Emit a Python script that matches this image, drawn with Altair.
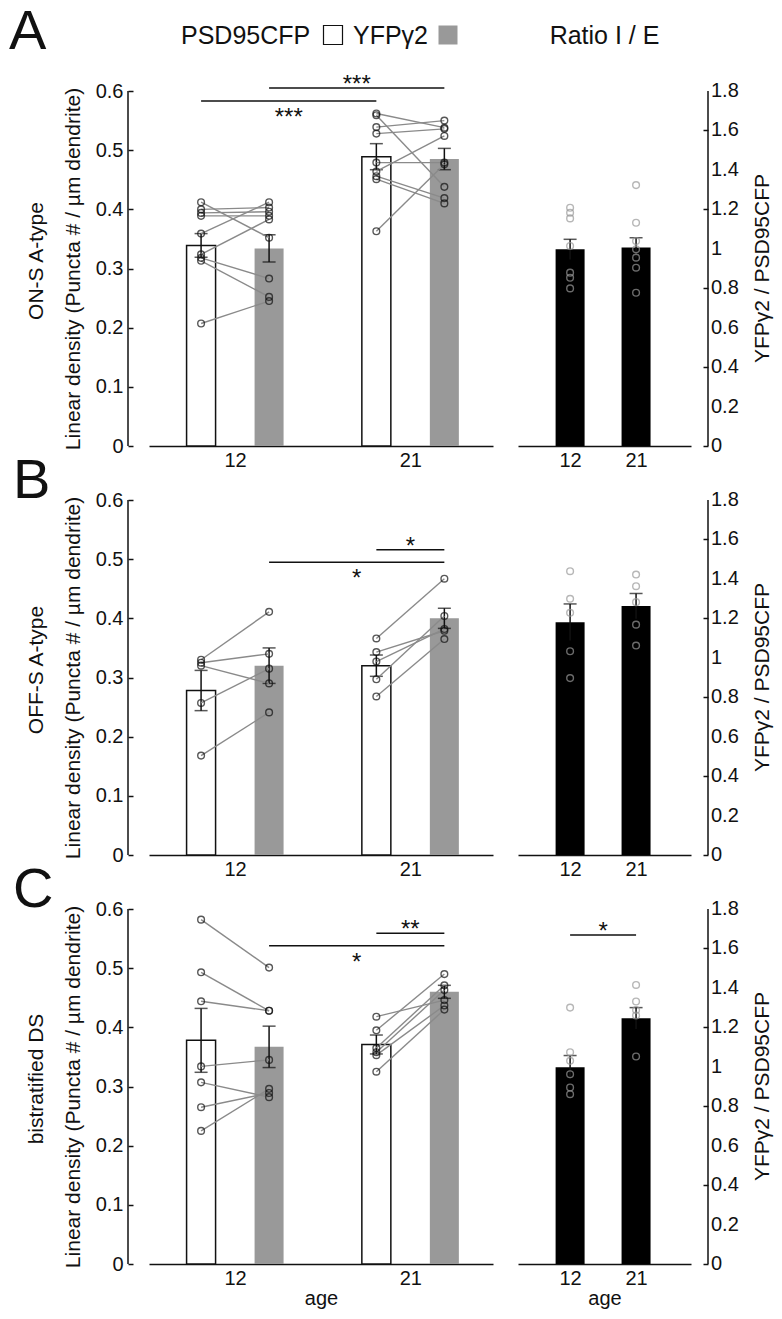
import altair as alt
import pandas as pd

FONT = "Liberation Sans"
AGES = ["12", "21"]
SERIES = ["PSD95CFP", "YFPγ2"]
PANEL_LETTERS = ["A", "B", "C"]
CELL_TYPES = ["ON-S A-type", "OFF-S A-type", "bistratified DS"]
LEFT_TITLE = "Linear density (Puncta # / µm dendrite)"
RIGHT_TITLE = "YFPγ2 / PSD95CFP"
RATIO_HEADER = "Ratio I / E"
X_TITLE = "age"
LEFT_TICKS = [0, 0.1, 0.2, 0.3, 0.4, 0.5, 0.6]
RIGHT_TICKS = [0, 0.2, 0.4, 0.6, 0.8, 1, 1.2, 1.4, 1.6, 1.8]
RIGHT_TICK_LABELS = ["0", "0.2", "0.4", "0.6", "0.8", "1", "1.2", "1.4", "1.6", "1.8"]

# ---------------- A : ON-S A-type ----------------
A_psd_12 = [0.412, 0.400, 0.394, 0.389, 0.359, 0.324, 0.318, 0.313, 0.207]
A_yfp_12 = [0.352, 0.403, 0.396, 0.389, 0.412, 0.383, 0.283, 0.252, 0.245]
A_psd_21 = [0.562, 0.559, 0.539, 0.528, 0.479, 0.464, 0.456, 0.451, 0.363]
A_yfp_21 = [0.538, 0.438, 0.550, 0.536, 0.479, 0.524, 0.419, 0.410, 0.476]
A_mean_psd = [0.339, 0.489]
A_sem_psd = [0.020, 0.022]
A_mean_yfp = [0.334, 0.485]
A_sem_yfp = [0.023, 0.018]
A_ratio_12 = [1.208, 1.183, 1.154, 1.014, 0.879, 0.853, 0.799]
A_ratio_21 = [1.323, 1.132, 1.039, 0.997, 0.955, 0.904, 0.777]
A_ratio_mean = [0.997, 1.006]
A_ratio_sem = [0.051, 0.050]
A_sig = [("12", "YFPγ2", "21", "YFPγ2", 0.605, "***", "above"),
         ("12", "PSD95CFP", "21", "PSD95CFP", 0.583, "***", "below")]
A_ratio_sig = []

# ---------------- B : OFF-S A-type ----------------
B_psd_12 = [0.330, 0.325, 0.320, 0.257, 0.168]
B_yfp_12 = [0.411, 0.340, 0.290, 0.315, 0.241]
B_psd_21 = [0.366, 0.343, 0.327, 0.297, 0.268]
B_yfp_21 = [0.467, 0.379, 0.382, 0.404, 0.365]
B_mean_psd = [0.278, 0.320]
B_sem_psd = [0.034, 0.018]
B_mean_yfp = [0.320, 0.400]
B_sem_yfp = [0.030, 0.017]
B_ratio_12 = [1.439, 1.299, 1.228, 1.033, 0.897]
B_ratio_21 = [1.422, 1.363, 1.282, 1.168, 1.062]
B_ratio_mean = [1.180, 1.262]
B_ratio_sem = [0.093, 0.064]
B_sig = [("21", "PSD95CFP", "21", "YFPγ2", 0.516, "*", "above"),
         ("12", "YFPγ2", "21", "YFPγ2", 0.495, "*", "below")]
B_ratio_sig = []

# ---------------- C : bistratified DS ----------------
C_psd_12 = [0.582, 0.493, 0.444, 0.334, 0.307, 0.265, 0.225]
C_yfp_12 = [0.501, 0.428, 0.428, 0.345, 0.282, 0.289, 0.296]
C_psd_21 = [0.418, 0.395, 0.365, 0.358, 0.353, 0.325]
C_yfp_21 = [0.446, 0.490, 0.471, 0.463, 0.437, 0.430]
C_mean_psd = [0.378, 0.371]
C_sem_psd = [0.054, 0.016]
C_mean_yfp = [0.367, 0.460]
C_sem_yfp = [0.035, 0.011]
C_ratio_12 = [1.300, 1.074, 1.030, 0.962, 0.895, 0.861]
C_ratio_21 = [1.415, 1.331, 1.288, 1.260, 1.052]
C_ratio_mean = [0.998, 1.246]
C_ratio_sem = [0.059, 0.054]
C_sig = [("21", "PSD95CFP", "21", "YFPγ2", 0.559, "**", "above"),
         ("12", "YFPγ2", "21", "YFPγ2", 0.538, "*", "below")]
C_ratio_sig = [("12", "21", 1.668, "*", "above")]

# ---------------- layout / style constants ----------------
W_L, W_R, H = 344, 173, 355
X_DOM_L = [-0.4626, 1.443]
X_DOM_R = [-0.714, 1.757]
OFF = 0.194
BAR_W = 29
GREY = "#999999"
LINE_GREY = "#8a8a8a"
INK = "#111111"
LABEL_EXPR = "['12','21'][datum.value]"
TICK_FONT = 20
TITLE_FONT = 21

one = pd.DataFrame({"k": [0]})


def xpos(age, series=None):
    g = AGES.index(age)
    if series is None:
        return float(g)
    return g + (-OFF if series == SERIES[0] else OFF)


def text_at(text, x, y, size, align="left", baseline="alphabetic", angle=0):
    return alt.Chart(one).mark_text(
        text=text, fontSize=size, align=align, baseline=baseline, angle=angle,
        color=INK, font=FONT
    ).encode(x=alt.value(x), y=alt.value(y))


def make_x_axis(show_title):
    return alt.Axis(values=[0, 1], labelExpr=LABEL_EXPR, ticks=False, tickSize=0,
                    grid=False, domain=True, domainColor=INK, domainWidth=1.5,
                    labelFontSize=TICK_FONT, labelPadding=4, labelColor=INK,
                    labelOverlap=False,
                    title=X_TITLE if show_title else "", titleFontSize=TICK_FONT,
                    titlePadding=0, titleFontWeight="normal", titleColor=INK)


def sig_layers(sigs, XE, YE, ratio=False):
    rows = []
    for s in sigs:
        if ratio:
            a1, a2, y, lab, place = s
            x1, x2 = xpos(a1), xpos(a2)
        else:
            a1, s1, a2, s2, y, lab, place = s
            x1, x2 = xpos(a1, s1), xpos(a2, s2)
        rows.append({"x1": x1, "x2": x2, "xm": (x1 + x2) / 2, "y": y,
                     "label": lab, "place": place})
    df = pd.DataFrame(rows, columns=["x1", "x2", "xm", "y", "label", "place"])
    layers = [
        alt.Chart(df).mark_rule(color=INK, strokeWidth=1.5).encode(
            x=XE("x1"), x2="x2:Q", y=YE("y")),
    ]
    for place, dy in (("above", 4), ("below", 24)):
        sub = df[df["place"] == place]
        layers.append(
            alt.Chart(sub).mark_text(fontSize=24, dy=dy, align="center",
                                     baseline="alphabetic", color=INK, font=FONT).encode(
                x=XE("xm"), y=YE("y"), text="label:N"))
    return layers


def left_panel(r, psd, yfp, mean_psd, sem_psd, mean_yfp, sem_yfp, sigs, last):
    xs = alt.Scale(domain=X_DOM_L, nice=False, zero=False)
    ys = alt.Scale(domain=[0, 0.6], nice=False, zero=True)
    x_axis = make_x_axis(last)
    y_axis = alt.Axis(values=LEFT_TICKS, format=".1~f", domain=False, ticks=True,
                      tickSize=5, tickWidth=1.5, tickColor=INK, offset=16,
                      labelPadding=5, labelFontSize=TICK_FONT, labelColor=INK,
                      labelOverlap=False, grid=False,
                      title=LEFT_TITLE, titleFontSize=TITLE_FONT, titleFontWeight="normal",
                      titleColor=INK, titlePadding=12)

    def XE(f):
        return alt.X(f"{f}:Q", scale=xs, axis=x_axis)

    def YE(f):
        return alt.Y(f"{f}:Q", scale=ys, axis=y_axis)

    bar_rows = []
    for s, means, sems in ((SERIES[0], mean_psd, sem_psd), (SERIES[1], mean_yfp, sem_yfp)):
        for i, a in enumerate(AGES):
            bar_rows.append({"series": s, "x": xpos(a, s), "mean": means[i],
                             "lo": means[i] - sems[i], "hi": means[i] + sems[i]})
    bars = pd.DataFrame(bar_rows)
    pt_rows = []
    for a in AGES:
        for i, (p, q) in enumerate(zip(psd[a], yfp[a])):
            pt_rows.append({"pair": f"{a}-{i}", "x": xpos(a, SERIES[0]), "v": p})
            pt_rows.append({"pair": f"{a}-{i}", "x": xpos(a, SERIES[1]), "v": q})
    pts = pd.DataFrame(pt_rows)

    bar_psd = alt.Chart(bars[bars["series"] == SERIES[0]]).mark_bar(
        size=BAR_W, fill="white", stroke=INK, strokeWidth=1.5).encode(
        x=XE("x"), y=YE("mean"))
    bar_yfp = alt.Chart(bars[bars["series"] == SERIES[1]]).mark_bar(
        size=BAR_W, color=GREY).encode(x=XE("x"), y=YE("mean"))
    err = alt.Chart(bars).mark_rule(color=INK, strokeWidth=1.5).encode(
        x=XE("x"), y=YE("lo"), y2="hi:Q")
    cap_lo = alt.Chart(bars).mark_tick(orient="horizontal", size=13, thickness=1.5,
                                       color=INK).encode(x=XE("x"), y=YE("lo"))
    cap_hi = alt.Chart(bars).mark_tick(orient="horizontal", size=13, thickness=1.5,
                                       color=INK).encode(x=XE("x"), y=YE("hi"))
    lines = alt.Chart(pts).mark_line(color=LINE_GREY, strokeWidth=1.4).encode(
        x=XE("x"), y=YE("v"), detail="pair:N")
    points = alt.Chart(pts).mark_point(shape="circle", filled=False, color=INK,
                                       size=45, strokeWidth=1.4).encode(
        x=XE("x"), y=YE("v"))
    axis_line = alt.Chart(one).mark_rule(color=INK, strokeWidth=1.5).encode(
        x=alt.value(-21), y=alt.datum(0.0), y2=alt.datum(0.6))

    layers = [bar_psd, bar_yfp, err, cap_lo, cap_hi, lines, points, axis_line]
    layers += sig_layers(sigs, XE, YE)
    letter_x = -140 if r == 0 else -136
    letter_y = -42 if r == 0 else -2
    layers.append(text_at(PANEL_LETTERS[r], letter_x, letter_y, 56))
    layers.append(text_at(CELL_TYPES[r], -112, 170, 21, align="center",
                          baseline="middle", angle=270))
    if r == 0:
        layers.append(text_at(SERIES[0], 32, -47, 25))
        layers.append(alt.Chart(one).mark_square(size=361, fill="white", stroke=INK,
                                                 strokeWidth=1.2, opacity=1).encode(
            x=alt.value(184), y=alt.value(-56)))
        layers.append(text_at(SERIES[1], 204, -47, 25))
        layers.append(alt.Chart(one).mark_square(size=361, fill=GREY, strokeWidth=0,
                                                 opacity=1).encode(
            x=alt.value(299), y=alt.value(-56)))
    return alt.layer(*layers).properties(width=W_L, height=H)


def ratio_panel(r, r12, r21, means, sems, sigs, last):
    xs = alt.Scale(domain=X_DOM_R, nice=False, zero=False)
    ys = alt.Scale(domain=[0, 1.8], nice=False, zero=True)
    x_axis = make_x_axis(last)
    y_axis = alt.Axis(orient="right", values=RIGHT_TICKS, domain=False, labels=False,
                      ticks=True, tickSize=5, tickWidth=1.5, tickColor=INK, offset=12,
                      grid=False, title="")

    def XE(f):
        return alt.X(f"{f}:Q", scale=xs, axis=x_axis)

    def YE(f):
        return alt.Y(f"{f}:Q", scale=ys, axis=y_axis)

    bars = pd.DataFrame({"x": [xpos(a) for a in AGES], "mean": means,
                         "lo": [m - e for m, e in zip(means, sems)],
                         "hi": [m + e for m, e in zip(means, sems)]})
    pt_rows = []
    for a, vals in zip(AGES, (r12, r21)):
        for v in vals:
            pt_rows.append({"x": xpos(a), "v": v})
    pts = pd.DataFrame(pt_rows)
    tick_df = pd.DataFrame({"v": RIGHT_TICKS, "label": RIGHT_TICK_LABELS})

    bar = alt.Chart(bars).mark_bar(size=BAR_W, color="black").encode(
        x=XE("x"), y=YE("mean"))
    err = alt.Chart(bars).mark_rule(color=INK, strokeWidth=1.5).encode(
        x=XE("x"), y=YE("lo"), y2="hi:Q")
    cap_hi = alt.Chart(bars).mark_tick(orient="horizontal", size=13, thickness=1.5,
                                       color=INK).encode(x=XE("x"), y=YE("hi"))
    points = alt.Chart(pts).mark_point(shape="circle", filled=False, color=GREY,
                                       size=45, strokeWidth=1.4).encode(
        x=XE("x"), y=YE("v"))
    axis_line = alt.Chart(one).mark_rule(color=INK, strokeWidth=1.5).encode(
        x=alt.value(W_R + 17), y=alt.datum(0.0), y2=alt.datum(1.8))
    tick_labels = alt.Chart(tick_df).mark_text(
        fontSize=TICK_FONT, align="left", baseline="middle", color=INK, font=FONT
    ).encode(x=alt.value(W_R + 20), y=YE("v"), text="label:N")
    layers = [bar, err, cap_hi, points, axis_line, tick_labels]
    layers += sig_layers(sigs, XE, YE, ratio=True)
    layers.append(text_at(RIGHT_TITLE, W_R + 72, H / 2, TITLE_FONT, align="center",
                          baseline="middle", angle=270))
    if r == 0:
        layers.append(text_at(RATIO_HEADER, W_R / 2, -47, 25, align="center"))
    return alt.layer(*layers).properties(width=W_R, height=H)


panels = [
    (A_psd_12, A_yfp_12, A_psd_21, A_yfp_21, A_mean_psd, A_sem_psd, A_mean_yfp, A_sem_yfp,
     A_sig, A_ratio_12, A_ratio_21, A_ratio_mean, A_ratio_sem, A_ratio_sig),
    (B_psd_12, B_yfp_12, B_psd_21, B_yfp_21, B_mean_psd, B_sem_psd, B_mean_yfp, B_sem_yfp,
     B_sig, B_ratio_12, B_ratio_21, B_ratio_mean, B_ratio_sem, B_ratio_sig),
    (C_psd_12, C_yfp_12, C_psd_21, C_yfp_21, C_mean_psd, C_sem_psd, C_mean_yfp, C_sem_yfp,
     C_sig, C_ratio_12, C_ratio_21, C_ratio_mean, C_ratio_sem, C_ratio_sig),
]

charts = []
for r, p in enumerate(panels):
    (p12, y12, p21, y21, mp, sp, my, sy, sig, r12, r21, rm, rs, rsig) = p
    last = r == len(panels) - 1
    charts.append(left_panel(r, {"12": p12, "21": p21}, {"12": y12, "21": y21},
                             mp, sp, my, sy, sig, last))
    charts.append(ratio_panel(r, r12, r21, rm, rs, rsig, last))

chart = alt.concat(
    *charts, columns=2, spacing={"row": 54, "column": 25}, bounds="flush",
    padding={"left": 0, "top": -5, "right": 0, "bottom": 0},
).configure_view(stroke="transparent").configure_axis(
    labelFont=FONT, titleFont=FONT
).configure_text(font=FONT)

chart.save("out.html", embed_options={"renderer": "svg", "actions": False})
